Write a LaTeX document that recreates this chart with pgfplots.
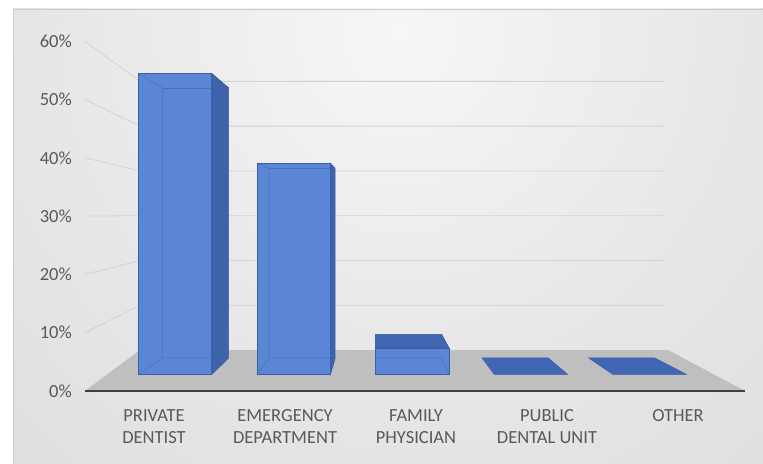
\documentclass[border=0pt]{standalone}
\usepackage{pgfplots}
\pgfplotsset{compat=1.18}
\usepackage{pgfplotstable}
\usepackage{fontspec}
\setmainfont{Carlito}

\definecolor{labelgray}{HTML}{595959}
\definecolor{barfront}{HTML}{5A86D5}
\definecolor{barside}{HTML}{3F63AB}
\definecolor{bartop}{HTML}{4066B4}
\definecolor{baredge}{HTML}{3A5FA9}
\definecolor{floorgray}{HTML}{BFBFBF}
\definecolor{gridgray}{HTML}{D2D2D2}
\definecolor{bgin}{HTML}{F6F6F6}
\definecolor{bgmid}{HTML}{E6E6E6}
\definecolor{bgout}{HTML}{C9C9C9}
\pgfdeclareradialshading{chartbg}{\pgfpoint{0bp}{0bp}}%
  {color(0bp)=(bgin); color(15bp)=(bgmid); color(50bp)=(bgout)}

% share of first contact, percent
\pgfplotstableread{
pos share
0   57
1   40
2   5
3   0
4   0
}\sharetable

% perspective: vanishing point (axis units) and depth scales
\def\cvp{1.70}  % x of vanishing point
\def\vvp{30.3}  % y of vanishing point
\def\sf{0.906}  % front face of the columns
\def\sb{0.813}  % back face of the columns
\def\sw{0.768}  % back wall
\def\hw{0.31}   % half column width

\begin{document}
\begin{tikzpicture}[x=1bp,y=1bp]
\fill[white] (0,0) rectangle (763,464);
\begin{scope}
  \clip (13,0) rectangle (763,455);
  \shade[shading=chartbg] (-220,-190) rectangle (1020,1050);
\end{scope}
\draw[black!20, line width=0.6bp] (13,0) -- (13,455) -- (763,455);

\begin{axis}[
  at={(75.4bp,73bp)}, anchor=south west, scale only axis,
  width=681.2bp, height=378.95bp,
  xmin=-0.6, xmax=4.6, ymin=0, ymax=65,
  clip=false,
  axis line style={draw=none},
  major tick length=0pt,
  xtick={0,...,4},
  xticklabels={{PRIVATE\\DENTIST},{EMERGENCY\\DEPARTMENT},{FAMILY\\PHYSICIAN},{PUBLIC\\DENTAL UNIT},{OTHER}},
  xticklabel style={align=center, anchor=north, inner sep=0pt, yshift=-18bp,
    text=labelgray, font=\fontsize{18.5bp}{22bp}\selectfont},
  ytick={0,10,...,60},
  yticklabel={\pgfmathprintnumber[assume math mode=true]{\tick}\%},
  yticklabel style={anchor=east, inner sep=0pt, xshift=-3.4bp,
    text=labelgray, font=\fontsize{18.5bp}{22bp}\selectfont},
  no marks,
]

% side and back wall gridlines
\pgfplotsinvokeforeach{10,20,...,60}{
  \draw[gridgray, line width=0.8bp]
    (axis cs:-0.527,#1) -- (axis cs:-0.107,{\vvp+(#1-\vvp)*\sw})
    -- (axis cs:3.90,{\vvp+(#1-\vvp)*\sw});
}

% floor
\addplot[fill=floorgray, draw=none]
  coordinates {(-0.527,0) (4.511,0) (3.924,7.03) (-0.107,7.03)} -- cycle;
\draw[black!75, line width=1.6bp] (axis cs:-0.527,0) -- (axis cs:4.511,0);

% columns
\pgfplotsinvokeforeach{0,...,4}{
  \pgfplotstablegetelem{#1}{share}\of\sharetable
  \pgfmathsetmacro\val{\pgfplotsretval}
  \pgfplotstablegetelem{#1}{pos}\of\sharetable
  \pgfmathsetmacro\pos{\pgfplotsretval}
  \pgfmathsetmacro\fL{\cvp+(\pos-\hw-\cvp)*\sf}
  \pgfmathsetmacro\fR{\cvp+(\pos+\hw-\cvp)*\sf}
  \pgfmathsetmacro\bL{\cvp+(\pos-\hw-\cvp)*\sb}
  \pgfmathsetmacro\bR{\cvp+(\pos+\hw-\cvp)*\sb}
  \pgfmathsetmacro\fB{\vvp*(1-\sf)}
  \pgfmathsetmacro\fT{\vvp+(\val-\vvp)*\sf}
  \pgfmathsetmacro\bB{\vvp*(1-\sb)}
  \pgfmathsetmacro\bT{\vvp+(\val-\vvp)*\sb}
  \ifdim\val pt>0pt
    \ifdim\pos pt<\cvp pt
      \addplot[fill=barside, draw=baredge, line width=0.5bp]
        coordinates {(\fR,\fB) (\bR,\bB) (\bR,\bT) (\fR,\fT)} -- cycle;
    \else
      \addplot[fill=barside, draw=baredge, line width=0.5bp]
        coordinates {(\fL,\fB) (\bL,\bB) (\bL,\bT) (\fL,\fT)} -- cycle;
    \fi
  \fi
  \ifdim\val pt<\vvp pt
    \addplot[fill=bartop, draw=baredge, line width=0.5bp]
      coordinates {(\fL,\fT) (\fR,\fT) (\bR,\bT) (\bL,\bT)} -- cycle;
  \fi
  \ifdim\val pt>0pt
    \addplot[fill=barfront, draw=baredge, line width=0.6bp]
      coordinates {(\fL,\fB) (\fR,\fB) (\fR,\fT) (\fL,\fT)} -- cycle;
    % edges seen through the front face
    \addplot[baredge, line width=0.5bp, draw opacity=0.55]
      coordinates {(\fL,\fT) (\bL,\bT) (\bL,\bB) (\fL,\fB)};
    \addplot[baredge, line width=0.5bp, draw opacity=0.55]
      coordinates {(\bL,\bB) (\bR,\bB) (\fR,\fB)};
    \addplot[baredge, line width=0.5bp, draw opacity=0.55]
      coordinates {(\bL,\bT) (\bR,\bT)};
  \fi
}
\end{axis}
\pgfresetboundingbox
\useasboundingbox (0,0) rectangle (763,464);
\end{tikzpicture}
\end{document}
